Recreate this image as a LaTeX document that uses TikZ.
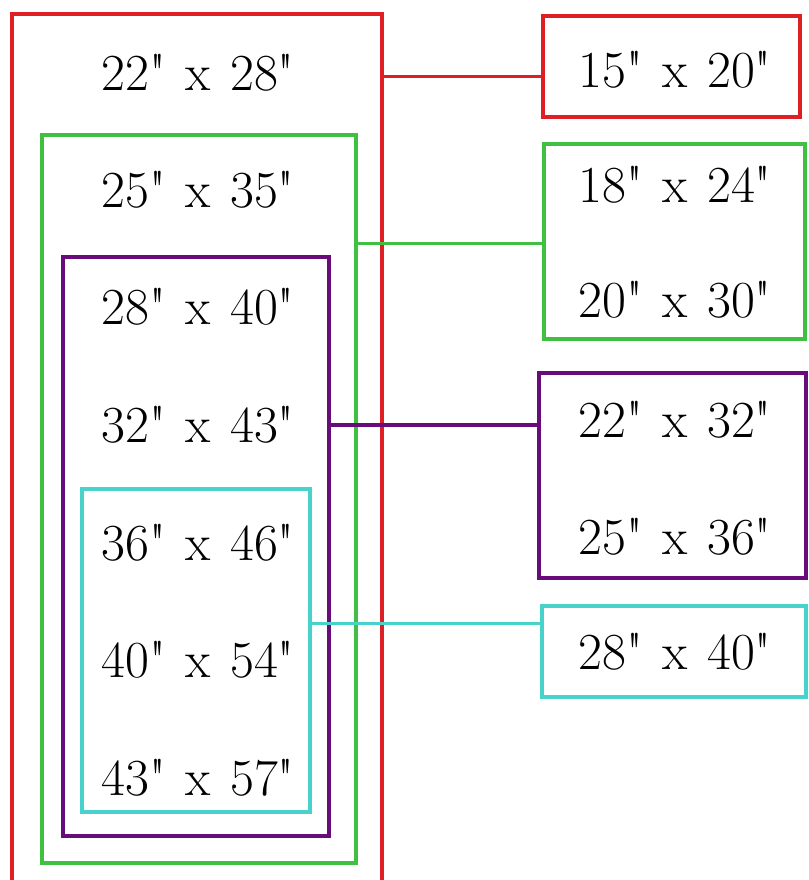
\documentclass[tikz,border=0pt]{standalone}
\usepackage{xcolor}
\usepackage{fontspec}
\usetikzlibrary{positioning}

\newfontfamily\sizefont{Latin Modern Roman}[WordSpace=1.25]

\definecolor{frameRed}{RGB}{222,32,36}
\definecolor{frameGreen}{RGB}{64,192,64}
\definecolor{framePurple}{RGB}{104,12,124}
\definecolor{frameCyan}{RGB}{72,210,204}

\begin{document}
\begin{tikzpicture}[
    x=1pt, y=-1pt,
    frame/.style={rectangle, line width=3.5pt, inner sep=0pt},
    size/.style={font=\sizefont\fontsize{52}{62}\selectfont, inner sep=0pt},
    link/.style={line width=3pt}
]
\useasboundingbox (0,0) rectangle (808,880);

% Nested frames (left)
\begin{scope}
\clip (0,0) rectangle (808,880);
\node[frame, draw=frameRed, minimum width=370pt, minimum height=886pt] (frameA) at (197,457) {};
\end{scope}
\node[frame, draw=frameGreen, minimum width=314pt, minimum height=728pt] (frameB) at (199,499) {};
\node[frame, draw=framePurple, line width=4.5pt, minimum width=266pt, minimum height=579pt] (frameC) at (196,546.5) {};
\node[frame, draw=frameCyan, minimum width=228pt, minimum height=323pt] (frameD) at (196,650.5) {};

% Sizes inside the frames
\node[size] (la) at (198,73) {22" x 28"};
\node[size] (lb) at (198,190) {25" x 35"};
\node[size] (lc) at (198,307) {28" x 40"};
\node[size] (ld) at (198,425) {32" x 43"};
\node[size] (le) at (198,543) {36" x 46"};
\node[size] (lf) at (198,660) {40" x 54"};
\node[size] (lg) at (198,778) {43" x 57"};

% Boxes (right)
\node[frame, draw=frameRed, minimum width=257pt, minimum height=101pt] (boxA) at (671.5,66.5) {};
\node[frame, draw=frameGreen, minimum width=261pt, minimum height=195pt] (boxB) at (674.5,241.5) {};
\node[frame, draw=framePurple, line width=4.5pt, minimum width=267pt, minimum height=205pt] (boxC) at (672.5,475.5) {};
\node[frame, draw=frameCyan, minimum width=264pt, minimum height=91pt] (boxD) at (674,651.5) {};

% Sizes inside the boxes
\node[size] (ra) at (675,70) {15" x 20"};
\node[size] (rb) at (675,185) {18" x 24"};
\node[size] (rc) at (675,300) {20" x 30"};
\node[size] (rd) at (675,420) {22" x 32"};
\node[size] (re) at (675,537) {25" x 36"};
\node[size] (rf) at (675,652) {28" x 40"};

% Links
\coordinate (ja) at (0,77);
\coordinate (jb) at (0,243);
\coordinate (jc) at (0,425);
\coordinate (jd) at (0,623);
\draw[link, frameRed] (frameA.east |- ja) -- (boxA.west |- ja);
\draw[link, frameGreen] (frameB.east |- jb) -- (boxB.west |- jb);
\draw[link, framePurple, line width=4pt] (frameC.east |- jc) -- (boxC.west |- jc);
\draw[link, frameCyan] (frameD.east |- jd) -- (boxD.west |- jd);

\end{tikzpicture}
\end{document}
